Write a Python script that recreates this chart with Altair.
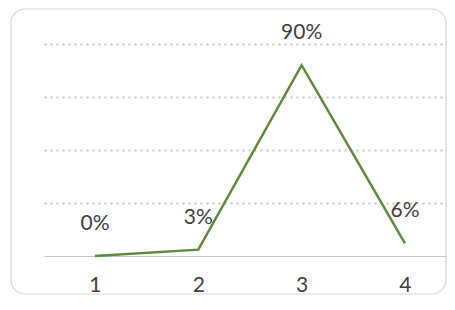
import altair as alt
import pandas as pd

categories = ["1", "2", "3", "4"]
values = [0.0, 0.03, 0.90, 0.06]
labels = ["0%", "3%", "90%", "6%"]

df = pd.DataFrame({"cat": categories, "val": values, "lab": labels})

FONT = "Lato"

x_scale = alt.Scale(type="point", padding=0.45, align=0.548)

x_enc = alt.X("cat:O", sort=categories, scale=x_scale,
              axis=alt.Axis(title=None, labelAngle=0, ticks=False, grid=False,
                            domainColor="#c4c4c4", domainWidth=1,
                            labelFont=FONT, labelFontSize=21, labelColor="#404040",
                            labelPadding=18))
y_enc = alt.Y("val:Q", scale=alt.Scale(domain=[0, 1]),
              axis=alt.Axis(title=None, labels=False, ticks=False, domain=False,
                            values=[0.25, 0.5, 0.75, 1.0], grid=True,
                            gridDash=[2, 4], gridWidth=2, gridColor="#c2c2c2"))

border = alt.Chart(pd.DataFrame({"a": [0]})).mark_rect(
    fillOpacity=0, stroke="#d6d6d6", strokeWidth=1.2, cornerRadius=14
).encode(
    x=alt.value(-33), x2=alt.value(402), y=alt.value(-35), y2=alt.value(250)
)

base = alt.Chart(df)

line = base.mark_line(color="#5e8a3c", strokeWidth=2.5).encode(x=x_enc, y=y_enc)

text = base.mark_text(font=FONT, fontSize=21, color="#404040", dy=-32,
                      baseline="middle", align="center").encode(
    x=alt.X("cat:O", sort=categories, scale=x_scale), y="val:Q", text="lab:N")

chart = alt.layer(border, line, text).properties(
    width=403, height=212,
    autosize="none",
    padding={"left": 36, "top": 36, "right": 0, "bottom": 40},
).configure_view(stroke=None)

chart.save("out.html", embed_options={"renderer": "svg", "actions": False})
